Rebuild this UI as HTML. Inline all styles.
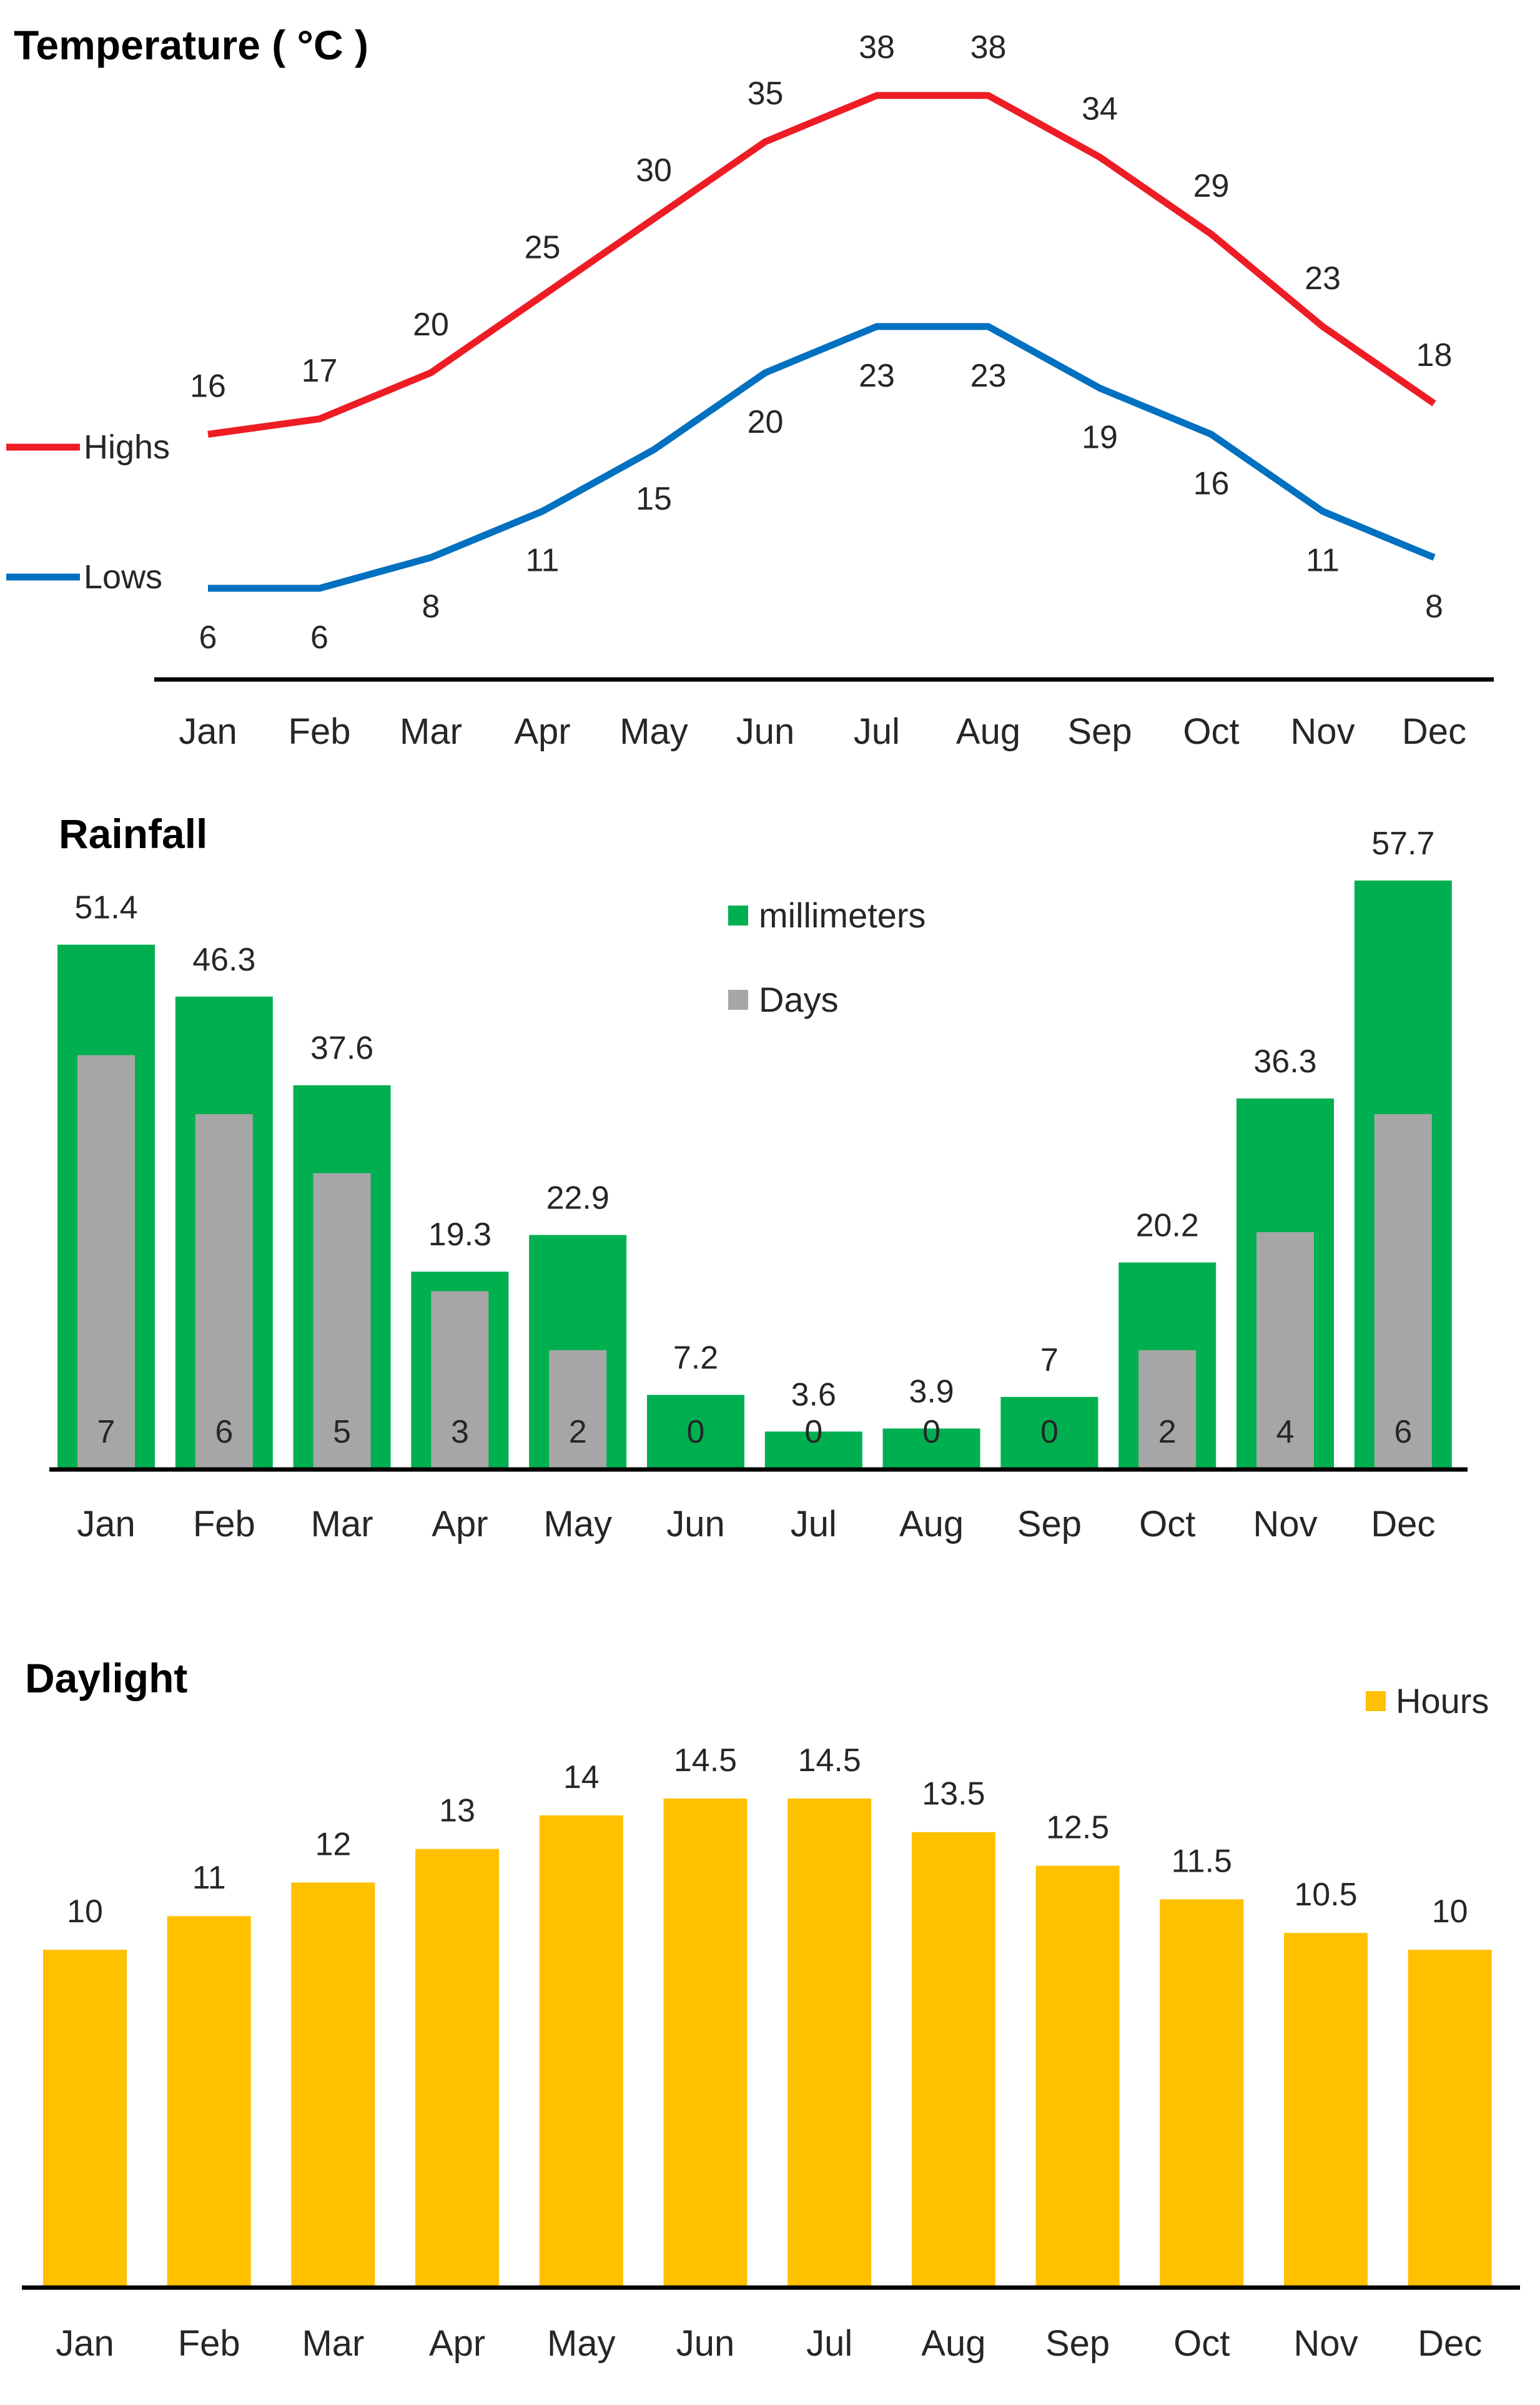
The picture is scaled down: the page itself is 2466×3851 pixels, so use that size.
<!DOCTYPE html>
<html><head><meta charset="utf-8"><style>
html,body{margin:0;padding:0;background:#fff;}
svg{display:block;font-family:"Liberation Sans Narrow","Liberation Sans",sans-serif;}
</style></head><body>
<svg id="chart" width="2466" height="3851" viewBox="0 0 2466 3851" xmlns="http://www.w3.org/2000/svg">
<rect width="2466" height="3851" fill="#fff"/>
<text x="22" y="95" font-size="66" font-weight="bold" fill="#000">Temperature ( °C )</text>
<line x1="247" y1="1088" x2="2392" y2="1088" stroke="#000" stroke-width="7"/>
<line x1="10" y1="716" x2="128" y2="716" stroke="#ee1c25" stroke-width="11"/>
<text x="134" y="734" font-size="54" fill="#262626">Highs</text>
<line x1="10" y1="924" x2="128" y2="924" stroke="#0070c0" stroke-width="11"/>
<text x="134" y="942" font-size="54" fill="#262626">Lows</text>
<g id="temp"></g>
<text x="94" y="1358" font-size="66" font-weight="bold" fill="#000">Rainfall</text>
<rect x="1166" y="1450" width="32" height="32" fill="#00b050"/>
<text x="1215" y="1485" font-size="56" fill="#262626">millimeters</text>
<rect x="1166" y="1585" width="32" height="32" fill="#a6a6a6"/>
<text x="1215" y="1620" font-size="56" fill="#262626">Days</text>
<g id="rain"></g>
<line x1="79" y1="2353" x2="2350" y2="2353" stroke="#000" stroke-width="7"/>
<text x="40" y="2710" font-size="66" font-weight="bold" fill="#000">Daylight</text>
<rect x="2187" y="2708" width="32" height="32" fill="#ffc000"/>
<text x="2235" y="2743" font-size="56" fill="#262626">Hours</text>
<g id="day"></g>
<line x1="35" y1="3663" x2="2434" y2="3663" stroke="#000" stroke-width="7"/>
</svg>
<script>
const months = ["Jan","Feb","Mar","Apr","May","Jun","Jul","Aug","Sep","Oct","Nov","Dec"];
const highs = [16,17,20,25,30,35,38,38,34,29,23,18];
const lows = [6,6,8,11,15,20,23,23,19,16,11,8];
const rainMm = [51.4,46.3,37.6,19.3,22.9,7.2,3.6,3.9,7,20.2,36.3,57.7];
const rainDays = [7,6,5,3,2,0,0,0,0,2,4,6];
const daylightHours = [10,11,12,13,14,14.5,14.5,13.5,12.5,11.5,10.5,10];

const NS="http://www.w3.org/2000/svg";
function mk(parent,tag,attrs,txt){const e=document.createElementNS(NS,tag);for(const k in attrs)e.setAttribute(k,attrs[k]);if(txt!==undefined)e.textContent=txt;parent.appendChild(e);return e;}

// Temperature
const tX=i=>333+i*178.5;
const tY=v=>1090-24.66*v;
const tg=document.getElementById('temp');
[[highs,'#ee1c25','highs',-1],[lows,'#0070c0','lows',1]].forEach(([arr,col,nm,dir])=>{
  const p=mk(tg,'polyline',{points:arr.map((v,i)=>tX(i)+','+tY(v)).join(' '),fill:'none',stroke:col,'stroke-width':11,'stroke-linejoin':'round'});
  
  
  arr.forEach((v,i)=>{
    const t=mk(tg,'text',{x:tX(i),y:tY(v)+dir*78+18,'font-size':52,fill:'#262626','text-anchor':'middle'},String(v));
    
    
  });
});
months.forEach((m,i)=>{
  const t=mk(tg,'text',{x:tX(i),y:1191,'font-size':58,fill:'#262626','text-anchor':'middle'},m);
  
  
});

// Rainfall
const rX=i=>170+i*188.8;
const rBase=2351;
const mmY=v=>rBase-16.31*v;
const dY=v=>rBase-94.5*v;
const rg=document.getElementById('rain');
rainMm.forEach((v,i)=>{
  const b=mk(rg,'rect',{x:rX(i)-78,y:mmY(v),width:156,height:rBase-mmY(v),fill:'#00b050'});
  
  
  const t=mk(rg,'text',{x:rX(i),y:mmY(v)-42,'font-size':52,fill:'#262626','text-anchor':'middle'},String(v));
  
  
});
rainDays.forEach((v,i)=>{
  const b=mk(rg,'rect',{x:rX(i)-46,y:dY(v),width:92,height:rBase-dY(v),fill:'#a6a6a6'});
  
  
  const t=mk(rg,'text',{x:rX(i),y:2310,'font-size':52,fill:'#262626','text-anchor':'middle'},String(v));
  
  
});
months.forEach((m,i)=>{
  const t=mk(rg,'text',{x:rX(i),y:2460,'font-size':58,fill:'#262626','text-anchor':'middle'},m);
  
  
});

// Daylight
const dlX=i=>136+i*198.7;
const dlBase=3660;
const hY=v=>dlBase-53.8*v;
const dg=document.getElementById('day');
daylightHours.forEach((v,i)=>{
  const b=mk(dg,'rect',{x:dlX(i)-67,y:hY(v),width:134,height:dlBase-hY(v),fill:'#ffc000'});
  
  
  const t=mk(dg,'text',{x:dlX(i),y:hY(v)-44,'font-size':52,fill:'#262626','text-anchor':'middle'},String(v));
  
  
});
months.forEach((m,i)=>{
  const t=mk(dg,'text',{x:dlX(i),y:3772,'font-size':58,fill:'#262626','text-anchor':'middle'},m);
  
  
});
</script>
</body></html>
